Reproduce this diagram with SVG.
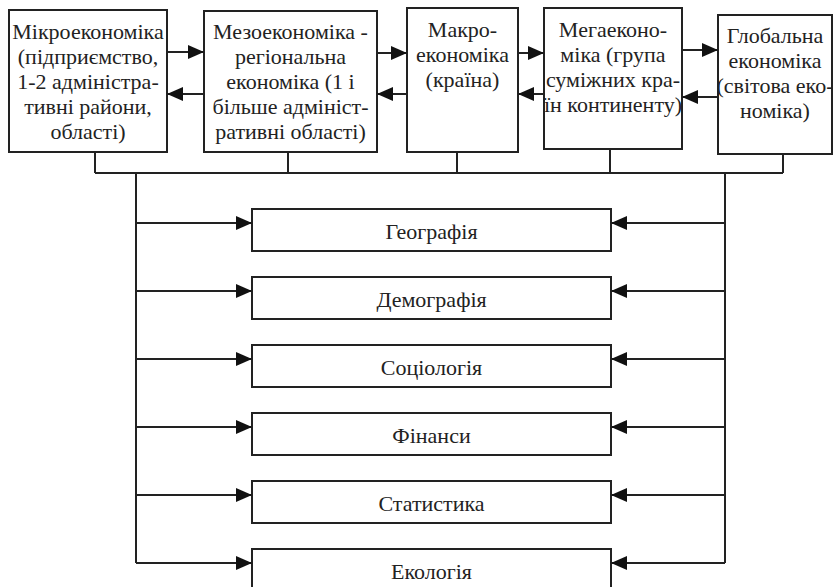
<svg xmlns="http://www.w3.org/2000/svg" width="833" height="587" viewBox="0 0 833 587">
<defs>
<style>
.box{fill:#fff;stroke:#222;stroke-width:2}
.t{font-family:"Liberation Serif","Times New Roman",serif;font-size:22px;fill:#222;text-anchor:middle}
.s{font-family:"Liberation Serif","Times New Roman",serif;font-size:22px;fill:#222;text-anchor:middle}
.ln{fill:none;stroke:#222;stroke-width:2}
.ar{fill:none;stroke:#222;stroke-width:2;marker-end:url(#ah)}
</style>
<marker id="ah" markerUnits="userSpaceOnUse" markerWidth="16" markerHeight="14" refX="16" refY="7" orient="auto">
<path d="M0,0 L16,7 L0,14 z" fill="#111"/>
</marker>
</defs>
<rect width="833" height="587" fill="#fff"/>
<g id="n-micro">
<rect class="box" x="9" y="10" width="158" height="142"/>
<text class="t" x="88" y="39">Мікроекономіка</text>
<text class="t" x="88" y="64">(підприємство,</text>
<text class="t" x="88" y="89">1-2 адміністра-</text>
<text class="t" x="88" y="114">тивні райони,</text>
<text class="t" x="88" y="139">області)</text>
</g>
<g id="n-meso">
<rect class="box" x="204" y="11" width="173" height="141"/>
<text class="t" x="290.5" y="39">Мезоекономіка -</text>
<text class="t" x="290.5" y="64">регіональна</text>
<text class="t" x="290.5" y="89">економіка (1 і</text>
<text class="t" x="290.5" y="114">більше адмініст-</text>
<text class="t" x="290.5" y="139">ративні області)</text>
</g>
<g id="n-macro">
<rect class="box" x="407" y="8" width="111" height="144"/>
<text class="t" x="462.5" y="37">Макро-</text>
<text class="t" x="462.5" y="62">економіка</text>
<text class="t" x="462.5" y="87">(країна)</text>
</g>
<g id="n-mega">
<rect class="box" x="544" y="8" width="138" height="141"/>
<text class="t" x="613" y="37">Мегаеконо-</text>
<text class="t" x="613" y="62">міка (група</text>
<text class="t" x="613" y="87">суміжних кра-</text>
<text class="t" x="613" y="112">їн континенту)</text>
</g>
<g id="n-global">
<rect class="box" x="718" y="15" width="114" height="139"/>
<text class="t" x="775" y="43">Глобальна</text>
<text class="t" x="775" y="68">економіка</text>
<text class="t" x="775" y="93">(світова еко-</text>
<text class="t" x="775" y="118">номіка)</text>
</g>
<g id="n-geo">
<rect class="box" x="252" y="209" width="359" height="42"/>
<text class="s" x="431.5" y="239">Географія</text>
</g>
<g id="n-demo">
<rect class="box" x="252" y="277" width="359" height="42"/>
<text class="s" x="431.5" y="307">Демографія</text>
</g>
<g id="n-socio">
<rect class="box" x="252" y="345" width="359" height="42"/>
<text class="s" x="431.5" y="375">Соціологія</text>
</g>
<g id="n-fin">
<rect class="box" x="252" y="413" width="359" height="42"/>
<text class="s" x="431.5" y="443">Фінанси</text>
</g>
<g id="n-stat">
<rect class="box" x="252" y="481" width="359" height="42"/>
<text class="s" x="431.5" y="511">Статистика</text>
</g>
<g id="n-eco">
<rect class="box" x="252" y="549" width="359" height="42"/>
<text class="s" x="431.5" y="579">Екологія</text>
</g>
<g id="connectors">
<line class="ar" x1="167" y1="52" x2="204" y2="52"/>
<line class="ar" x1="204" y1="94" x2="167" y2="94"/>
<line class="ar" x1="377" y1="53" x2="407" y2="53"/>
<line class="ar" x1="407" y1="94" x2="377" y2="94"/>
<line class="ar" x1="518" y1="53" x2="544" y2="53"/>
<line class="ar" x1="544" y1="94" x2="518" y2="94"/>
<line class="ar" x1="682" y1="50" x2="718" y2="50"/>
<line class="ar" x1="718" y1="97" x2="682" y2="97"/>
<path class="ln" d="M95,152 V173 M288,152 V173 M457,152 V173 M610,149 V173 M783,154 V173 M95,173 H783 M136,173 V563 M725,173 V563"/>
<line class="ar" x1="136" y1="223" x2="252" y2="223"/>
<line class="ar" x1="136" y1="291" x2="252" y2="291"/>
<line class="ar" x1="136" y1="359" x2="252" y2="359"/>
<line class="ar" x1="136" y1="427" x2="252" y2="427"/>
<line class="ar" x1="136" y1="495" x2="252" y2="495"/>
<line class="ar" x1="136" y1="563" x2="252" y2="563"/>
<line class="ar" x1="725" y1="223" x2="611" y2="223"/>
<line class="ar" x1="725" y1="291" x2="611" y2="291"/>
<line class="ar" x1="725" y1="359" x2="611" y2="359"/>
<line class="ar" x1="725" y1="427" x2="611" y2="427"/>
<line class="ar" x1="725" y1="495" x2="611" y2="495"/>
<line class="ar" x1="725" y1="563" x2="611" y2="563"/>
</g>
</svg>
